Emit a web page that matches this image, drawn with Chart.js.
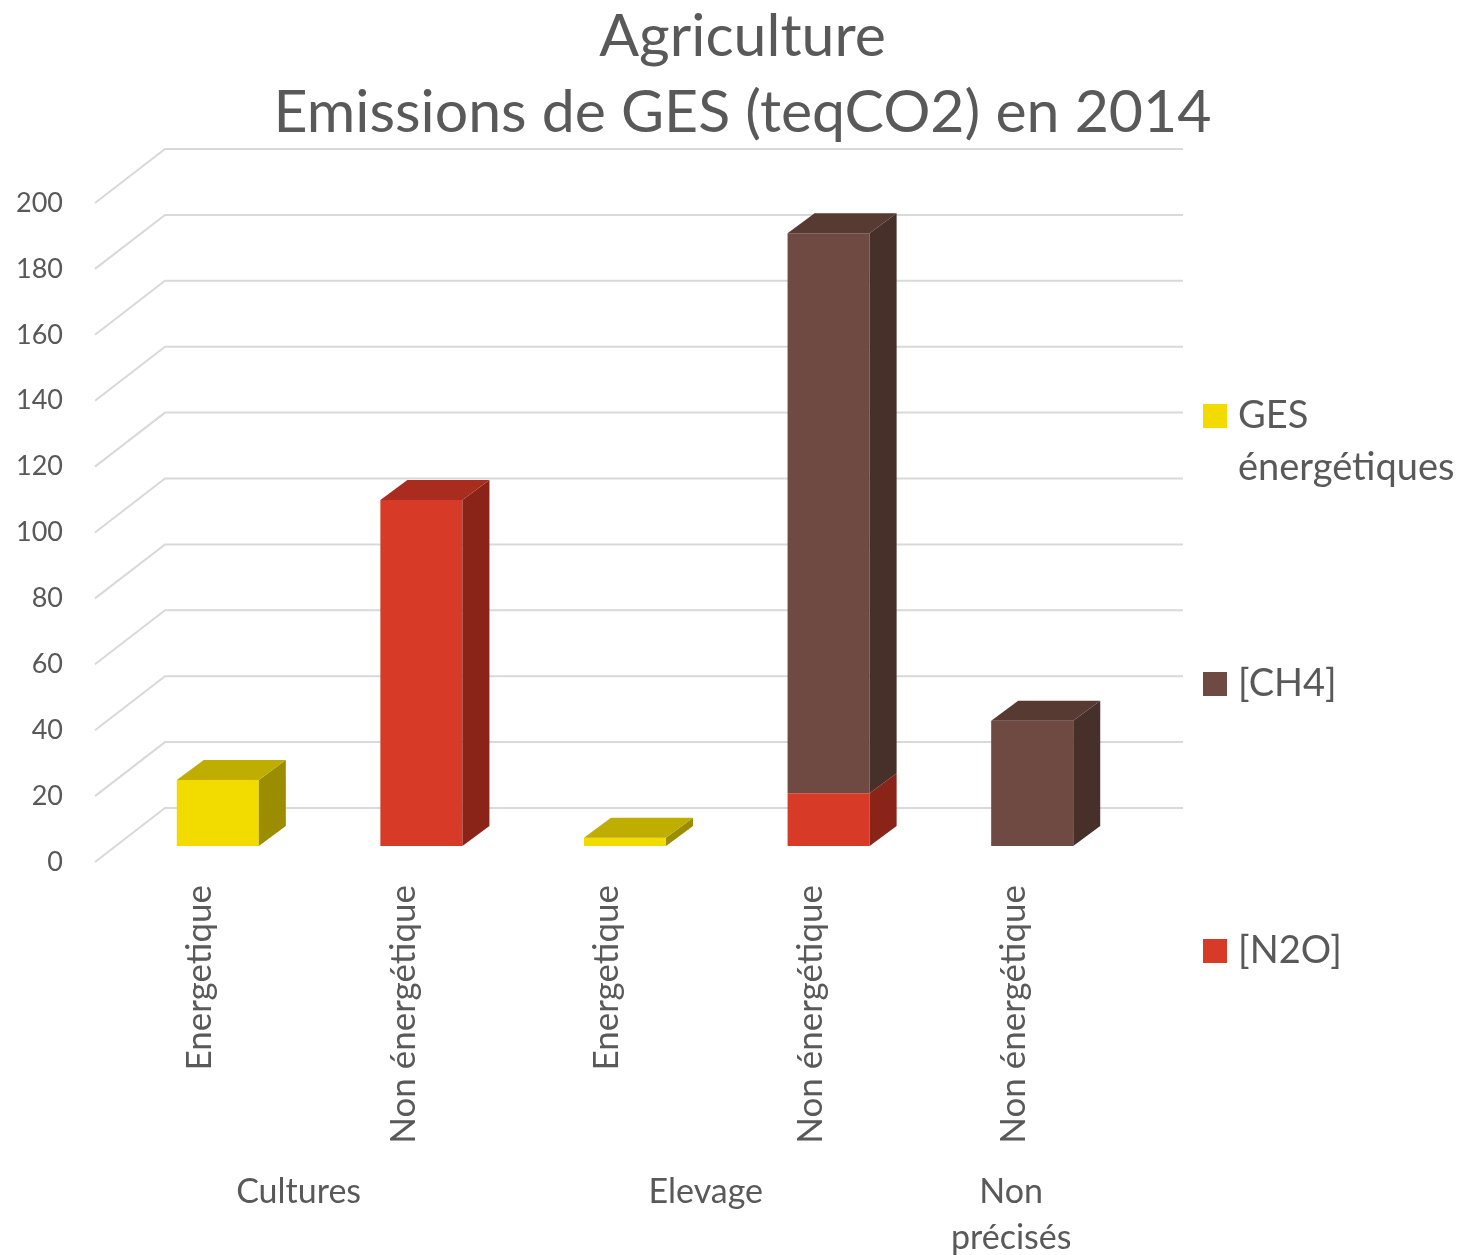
<!DOCTYPE html>
<html lang="fr">
<head>
<meta charset="UTF-8">
<title>Agriculture - Emissions de GES (teqCO2) en 2014</title>
<script src="https://cdn.jsdelivr.net/npm/chart.js"></script>
<style>
  html, body { margin: 0; padding: 0; background: #fff; }
  canvas { display: block; }
</style>
</head>
<body>
<canvas id="chart" width="1473" height="1255"></canvas>
<script>
// data
const subLabels = ['Energetique', 'Non énergétique', 'Energetique', 'Non énergétique', 'Non énergétique'];
const groups = ['Cultures', 'Elevage', ['Non', 'précisés']];
const groupOf = [0, 0, 1, 1, 2];
const gesEnergetiques = [20, null, 2.5, null, null];
const ch4 = [null, null, null, 170, 38];
const n2o = [null, 105, null, 16, null];
const titleLines = ['Agriculture', 'Emissions de GES (teqCO2) en 2014'];
const yMax = 200;
const yStep = 20;

const TEXT = '#595959';
const GRID = '#d9d9d9';
const FONT = 'Lato, Carlito, Calibri, sans-serif';

// colours: front face, top face, side face
const shades = {
    ges: ['#f2dc00', '#bfad00', '#9b8c00'],
    ch4: ['#6e4a42', '#573a32', '#47302a'],
    n2o: ['#d83a28', '#a92c1e', '#8a2419']
};

// bar depth (px) and floor/back wall offsets for the fake 3D look
const DEPTH_X = 27, DEPTH_Y = -20;
const FRONT_X = -21, FRONT_Y = 16;
const BACK_X = 49, BACK_Y = -38;

const grid3d = {
    id: 'grid3d',
    beforeDatasetsDraw(chart) {
        const { ctx, chartArea, scales } = chart;
        const y = scales.y;
        ctx.save();
        ctx.strokeStyle = GRID;
        ctx.lineWidth = 2;
        for (let v = 0; v <= yMax; v += yStep) {
            const py = y.getPixelForValue(v);
            ctx.beginPath();
            ctx.moveTo(chartArea.left + FRONT_X, py + FRONT_Y);
            ctx.lineTo(chartArea.left + BACK_X, py + BACK_Y);
            ctx.lineTo(chartArea.right + BACK_X, py + BACK_Y);
            ctx.stroke();
        }
        ctx.restore();
    }
};

const bars3d = {
    id: 'bars3d',
    afterDatasetsDraw(chart) {
        const { ctx } = chart;
        const metas = chart.getSortedVisibleDatasetMetas();
        // topmost segment of each stack gets the top face
        const topOf = {};
        chart.data.datasets.forEach((ds, di) => {
            ds.data.forEach((v, i) => { if (v !== null) topOf[i] = di; });
        });
        ctx.save();
        metas.forEach(meta => {
            const ds = chart.data.datasets[meta.index];
            meta.data.forEach((bar, i) => {
                if (ds.data[i] === null) return;
                const p = bar.getProps(['x', 'y', 'base', 'width'], true);
                const l = p.x - p.width / 2, r = p.x + p.width / 2;
                ctx.fillStyle = ds.sideColor;
                ctx.beginPath();
                ctx.moveTo(r, p.y);
                ctx.lineTo(r + DEPTH_X, p.y + DEPTH_Y);
                ctx.lineTo(r + DEPTH_X, p.base + DEPTH_Y);
                ctx.lineTo(r, p.base);
                ctx.closePath();
                ctx.fill();
                if (topOf[i] === meta.index) {
                    ctx.fillStyle = ds.topColor;
                    ctx.beginPath();
                    ctx.moveTo(l, p.y);
                    ctx.lineTo(l + DEPTH_X, p.y + DEPTH_Y);
                    ctx.lineTo(r + DEPTH_X, p.y + DEPTH_Y);
                    ctx.lineTo(r, p.y);
                    ctx.closePath();
                    ctx.fill();
                }
            });
        });
        ctx.restore();
    }
};

// title, group labels under the axis and the legend on the right
const extraText = {
    id: 'extraText',
    afterDraw(chart) {
        const { ctx, scales, chartArea } = chart;
        const x = scales.x;
        ctx.save();
        ctx.fillStyle = TEXT;
        ctx.textBaseline = 'middle';

        ctx.font = '59px ' + FONT;
        ctx.textAlign = 'center';
        titleLines.forEach((t, i) => ctx.fillText(t, chart.width / 2 + 6, 37 + i * 76));

        ctx.font = '34px ' + FONT;
        groups.forEach((g, gi) => {
            const idx = groupOf.map((v, i) => v === gi ? i : -1).filter(i => i >= 0);
            const cx = idx.reduce((s, i) => s + x.getPixelForValue(i), 0) / idx.length - 21;
            const lines = Array.isArray(g) ? g : [g];
            lines.forEach((t, li) => ctx.fillText(t, cx, 1192 + li * 46));
        });

        const items = [
            { lines: ['GES', 'énergétiques'], color: shades.ges[0], y: 416 },
            { lines: ['[CH4]'], color: shades.ch4[0], y: 684 },
            { lines: ['[N2O]'], color: shades.n2o[0], y: 951 }
        ];
        const bx = chartArea.right + 69;
        ctx.font = '38px ' + FONT;
        ctx.textAlign = 'left';
        items.forEach(it => {
            ctx.fillStyle = it.color;
            ctx.fillRect(bx, it.y - 12, 24, 24);
            ctx.fillStyle = TEXT;
            it.lines.forEach((t, li) => ctx.fillText(t, bx + 35, it.y + li * 52));
        });
        ctx.restore();
    }
};

function makeSet(label, data, key) {
    return {
        label: label,
        data: data,
        backgroundColor: shades[key][0],
        topColor: shades[key][1],
        sideColor: shades[key][2],
        borderWidth: 0,
        barPercentage: 0.403,
        categoryPercentage: 1
    };
}

new Chart(document.getElementById('chart'), {
    type: 'bar',
    data: {
        labels: subLabels,
        datasets: [
            makeSet('[N2O]', n2o, 'n2o'),
            makeSet('[CH4]', ch4, 'ch4'),
            makeSet('GES énergétiques', gesEnergetiques, 'ges')
        ]
    },
    options: {
        responsive: false,
        animation: false,
        layout: { padding: { left: 0, right: 339, top: 187, bottom: 0 } },
        plugins: {
            legend: { display: false },
            tooltip: { enabled: false },
            title: { display: false }
        },
        scales: {
            x: {
                stacked: true,
                grid: { display: false, drawTicks: false },
                border: { display: false },
                ticks: {
                    color: TEXT,
                    font: { family: FONT, size: 35 },
                    minRotation: 90,
                    maxRotation: 90,
                    autoSkip: false,
                    padding: 39,
                    labelOffset: -18
                },
                afterFit(scale) { scale.height = 409; }
            },
            y: {
                stacked: true,
                min: 0,
                max: yMax,
                grid: { display: false, drawTicks: false },
                border: { display: false },
                ticks: {
                    stepSize: yStep,
                    color: TEXT,
                    font: { family: FONT, size: 27 },
                    padding: 53,
                    labelOffset: 16
                },
                afterFit(scale) { scale.width = 116; }
            }
        }
    },
    plugins: [grid3d, bars3d, extraText]
});
</script>
</body>
</html>
